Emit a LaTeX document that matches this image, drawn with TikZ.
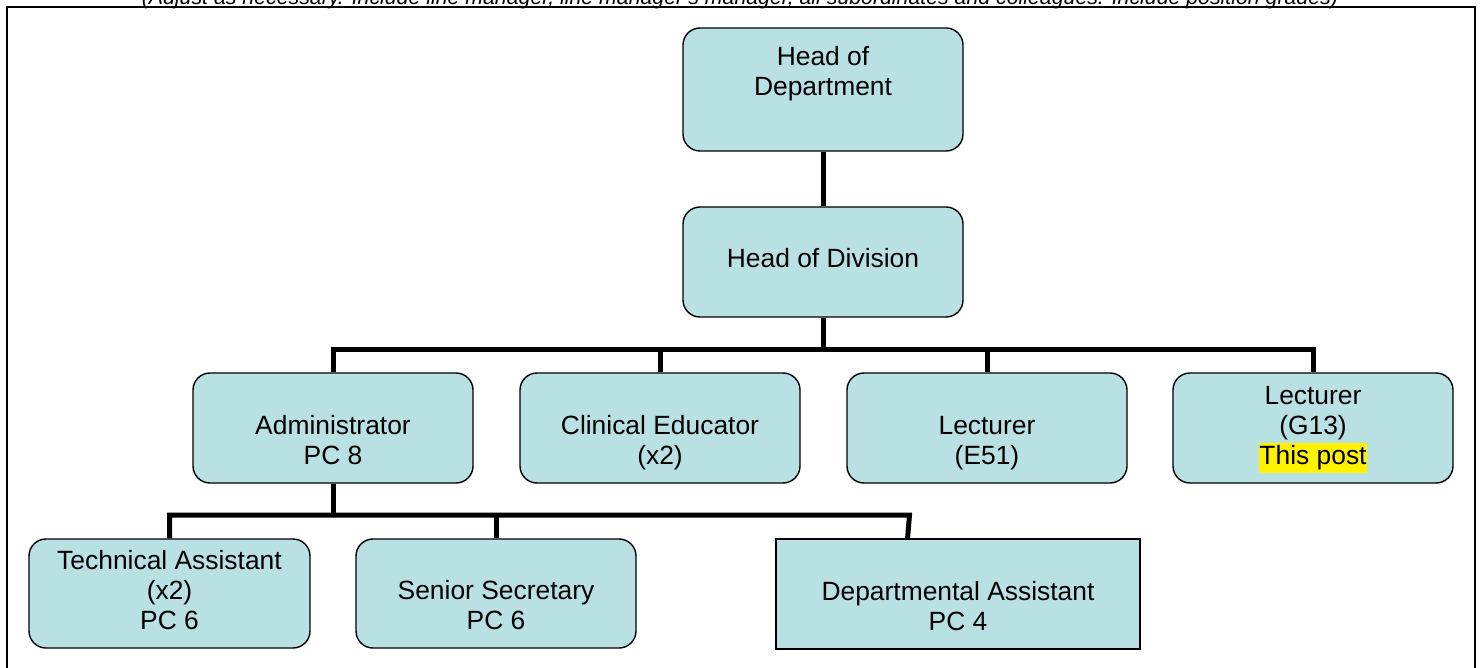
\documentclass[tikz,border=0pt]{standalone}
\usepackage{fontspec}
\setmainfont{Liberation Sans}
\definecolor{boxfill}{RGB}{185,224,227}
\begin{document}
\begin{tikzpicture}[x=1pt,y=-1pt,
  orgbox/.style={draw=black, line width=1.4pt, fill=boxfill, rounded corners=17pt,
    minimum width=280pt, minimum height=110pt, inner sep=0pt, align=center,
    font=\fontsize{26.4}{30}\selectfont},
  plainbox/.style={orgbox, rounded corners=0pt},
  conn/.style={line width=5pt, line join=miter},
  frameline/.style={line width=2pt}]
\useasboundingbox (0,0) rectangle (1483,668);
% heading (top half falls outside the page, as in the reference)
\node[anchor=base, inner sep=0pt, font=\fontsize{21.3}{24}\selectfont\itshape] (note) at (740,4.5)
  {(Adjust as necessary. Include line manager, line manager's manager, all subordinates and colleagues. Include position grades)};
% outer frame
\draw[frameline] (7,7) rectangle (1475,720);
% boxes
\node[orgbox, minimum height=123pt] (hod) at (823,89.5) {\strut Head of\\\strut Department\\\strut};
\node[orgbox] (hdiv) at (823,262) {\strut Head of Division};
\node[orgbox] (adm) at (333,428) {\strut\\\strut Administrator\\\strut PC 8};
\node[orgbox] (clin) at (660,428) {\strut\\\strut Clinical Educator\\\strut (x2)};
\node[orgbox] (lect) at (987,428) {\strut\\\strut Lecturer\\\strut (E51)};
\node[orgbox] (lectg) at (1313,428) {\strut Lecturer\\\strut (G13)\\{\setlength\fboxsep{0pt}\colorbox{yellow}{\strut This post}}};
\node[orgbox, minimum width=281pt, minimum height=109pt] (tech) at (169.5,593.5) {\strut Technical Assistant\\\strut (x2)\\\strut PC 6};
\node[orgbox, minimum height=109pt] (sec) at (496,593.5) {\strut\\\strut Senior Secretary\\\strut PC 6};
\node[plainbox, minimum width=364pt] (dep) at (958,594) {\strut\\\strut Departmental Assistant\\\strut PC 4};
% bus coordinates
\coordinate (b1) at (823,349);
\coordinate (b2) at (333,515);
\coordinate (depbus) at (909.5,515);
\coordinate (deptop) at (907.5,539);
% connectors
\draw[conn] (hod.south) -- (hdiv.north);
\draw[conn] (hdiv.south) -- (b1);
\draw[conn] (adm.north) -- (adm.north |- b1) -- (lectg.north |- b1) -- (lectg.north);
\draw[conn] (clin.north) -- (clin.north |- b1);
\draw[conn] (lect.north) -- (lect.north |- b1);
\draw[conn] (adm.south) -- (b2);
\draw[conn] (tech.north) -- (tech.north |- b2) -- (depbus) -- (deptop);
\draw[conn] (sec.north) -- (sec.north |- b2);
\end{tikzpicture}
\end{document}
